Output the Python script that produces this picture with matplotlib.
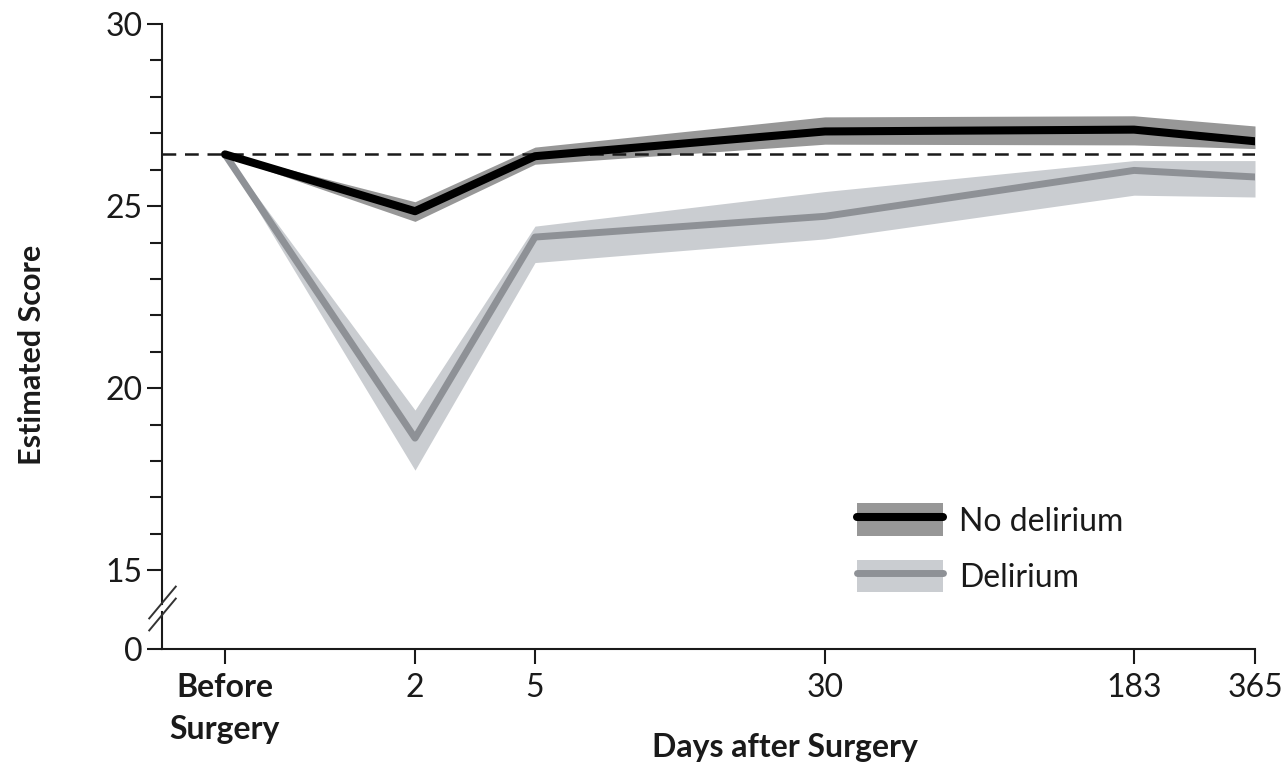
import numpy as np
import matplotlib
matplotlib.use("Agg")
from matplotlib import pyplot as plt
from matplotlib.patches import Patch
from matplotlib.lines import Line2D
from matplotlib.ticker import FixedLocator

plt.rcParams['font.family'] = ['Lato', 'DejaVu Sans']

# time points and estimated scores (with 95% CI band)
timepoints = ['Before\nSurgery', '2', '5', '30', '183', '365']
no_delirium_mean = [26.42, 24.86, 26.37, 27.05, 27.10, 26.78]
no_delirium_lo = [26.38, 24.58, 26.15, 26.70, 26.68, 26.58]
no_delirium_hi = [26.46, 25.12, 26.62, 27.45, 27.48, 27.20]
delirium_mean = [26.42, 18.63, 24.15, 24.72, 25.98, 25.80]
delirium_lo = [26.38, 17.75, 23.45, 24.10, 25.30, 25.25]
delirium_hi = [26.46, 19.40, 24.45, 25.40, 26.25, 26.25]

# horizontal slots for the (non-linear) day axis
x_slots = np.array([0.63, 2.53, 3.73, 6.63, 9.72, 10.93])

# broken y axis: 0..15 squeezed into a short stub
k = 2.16 / 15.0
def fwd(y):
    y = np.asarray(y, dtype=float)
    return np.where(y >= 15, y, 15 - (15 - y) * k)
def inv(y):
    y = np.asarray(y, dtype=float)
    return np.where(y >= 15, y, 15 - (15 - y) / k)

ink = '#1a1a1a'
fig = plt.figure(figsize=(12.85, 7.72), dpi=100)
ax = fig.add_axes([162/1285, 1 - 649/772, (1255-162)/1285, (649-24)/772])
ax.set_yscale('function', functions=(fwd, inv))
ax.set_ylim(0, 30)
ax.set_xlim(0, x_slots[-1])

# CI bands
ax.fill_between(x_slots, delirium_lo, delirium_hi, color='#cacdd1', lw=0, zorder=1)
ax.fill_between(x_slots, no_delirium_lo, no_delirium_hi, color='#979797', lw=0, zorder=2)

ax.axhline(no_delirium_mean[0], color=ink, lw=1.8, dashes=(5.5, 3.5), zorder=3)

ax.plot(x_slots, delirium_mean, color='#8e9196', lw=5.0, solid_capstyle='round',
        solid_joinstyle='round', zorder=4)
ax.plot(x_slots, no_delirium_mean, color='black', lw=5.8, solid_capstyle='round',
        solid_joinstyle='round', zorder=5)

# axes styling
for s in ['top', 'right', 'left']:
    ax.spines[s].set_visible(False)
ax.spines['bottom'].set_linewidth(1.5)
ax.spines['bottom'].set_color(ink)

yax = ax.get_yaxis_transform()
ax.plot([0, 0], [0, 7.0], transform=yax, color=ink, lw=1.5, clip_on=False)
ax.plot([0, 0], [8.6, 30], transform=yax, color=ink, lw=1.5, clip_on=False)
ax.plot([0, 0], [6.6, 8.9], transform=yax, ls='none', marker=[(-1, -1.2), (1, 1.2)],
        markersize=24, mew=1.4, color='#333333', clip_on=False)

ax.yaxis.set_major_locator(FixedLocator([0, 15, 20, 25, 30]))
ax.yaxis.set_minor_locator(FixedLocator([16, 17, 18, 19, 21, 22, 23, 24, 26, 27, 28, 29]))
ax.set_yticklabels(['0', '15', '20', '25', '30'])
ax.tick_params(axis='y', which='major', length=11, width=1.5, pad=3, labelsize=23,
               colors=ink)
ax.tick_params(axis='y', which='minor', length=8.5, width=1.5, colors=ink)

ax.set_xticks(x_slots)
ax.set_xticklabels(timepoints)
ax.tick_params(axis='x', length=11, width=1.5, pad=6, labelsize=23, colors=ink)
first = ax.get_xticklabels()[0]
first.set_fontweight('bold')
first.set_linespacing(1.55)

ax.set_ylabel('Estimated Score', fontsize=22, fontweight='bold', color=ink)
ax.yaxis.set_label_coords(-0.106, 0.47)
ax.set_xlabel('Days after Surgery', fontsize=23, fontweight='bold', color=ink)
ax.xaxis.set_label_coords(0.57, -0.135)

handles = [
    (Patch(facecolor='#979797', lw=0), Line2D([], [], color='black', lw=5.8, solid_capstyle='round')),
    (Patch(facecolor='#cacdd1', lw=0), Line2D([], [], color='#8e9196', lw=5.0, solid_capstyle='round')),
]
ax.legend(handles, ['No delirium', 'Delirium'], loc='upper left',
          bbox_to_anchor=(0.636, 0.233), frameon=False, fontsize=23,
          handlelength=2.7, handleheight=1.2, handletextpad=0.5,
          labelspacing=0.72, borderpad=0, borderaxespad=0, labelcolor=ink)

fig.savefig('out.png', dpi=100)
